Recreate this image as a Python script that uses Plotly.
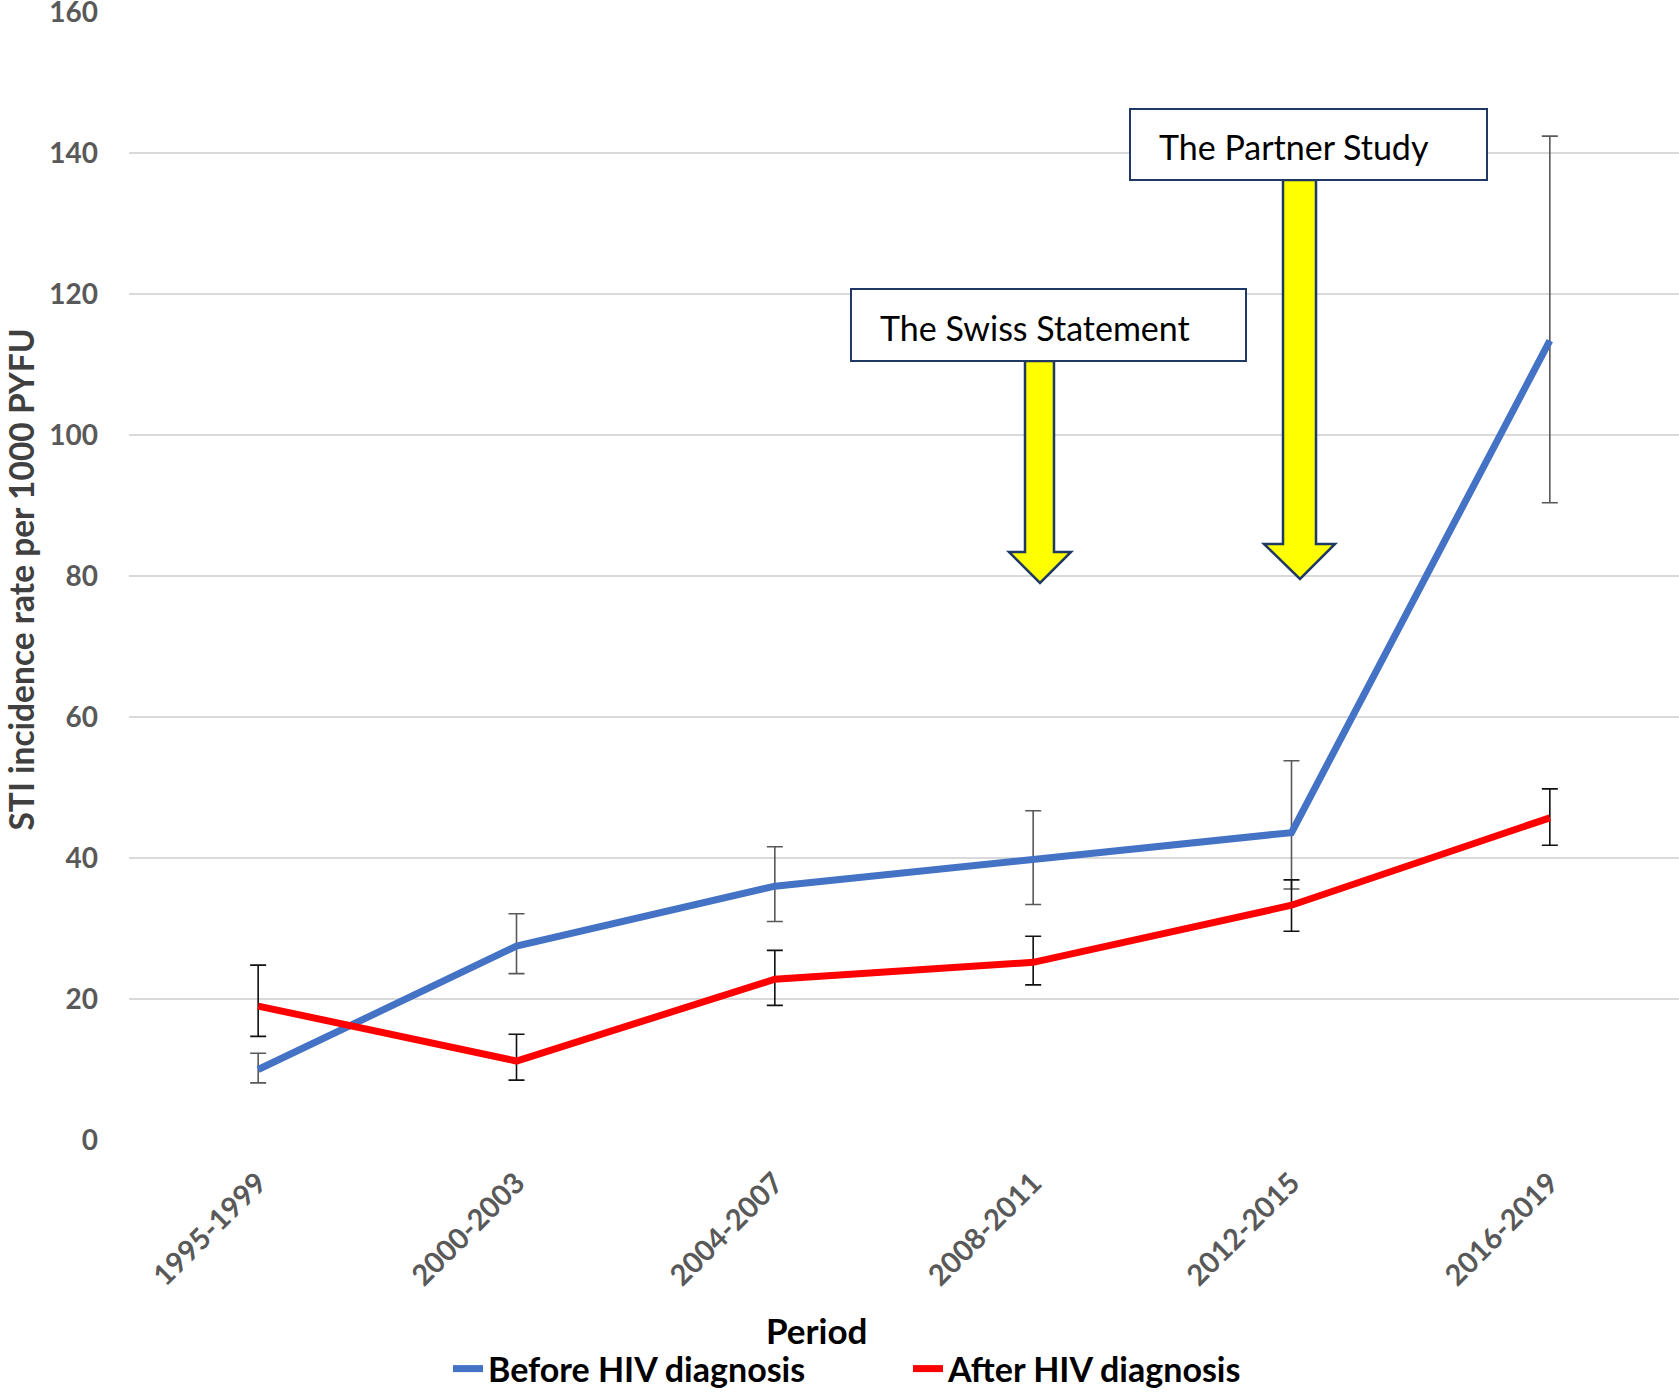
import plotly.graph_objects as go

periods = ["1995-1999", "2000-2003", "2004-2007", "2008-2011", "2012-2015", "2016-2019"]

before_rate = [10.0, 27.5, 36.0, 39.7, 43.6, 113.4]
before_upper = [12.3, 32.1, 41.6, 46.7, 53.8, 142.4]
before_lower = [8.1, 23.6, 31.0, 33.4, 35.6, 90.4]

after_rate = [19.0, 11.2, 22.8, 25.2, 33.3, 45.7]
after_upper = [24.8, 15.0, 26.9, 28.9, 36.9, 49.8]
after_lower = [14.7, 8.5, 19.1, 22.0, 29.6, 41.8]

y_ticks = [0, 20, 40, 60, 80, 100, 120, 140, 160]

W, H = 1679, 1394
ML, MR, MT, MB = 129, 0, 12, 254
PW = W - ML - MR
PH = H - MT - MB


def px(x):
    return (x - ML) / PW


def py(y):
    return (H - MB - y) / PH


fig = go.Figure()

fig.add_trace(go.Scatter(
    x=periods, y=before_rate, mode="lines", name="Before HIV diagnosis",
    line=dict(color="#4472C4", width=7),
    error_y=dict(type="data", symmetric=False,
                 array=[u - v for u, v in zip(before_upper, before_rate)],
                 arrayminus=[v - l for v, l in zip(before_rate, before_lower)],
                 color="#595959", thickness=1.6, width=8),
))
fig.add_trace(go.Scatter(
    x=periods, y=after_rate, mode="lines", name="After HIV diagnosis",
    line=dict(color="#FF0000", width=7),
    error_y=dict(type="data", symmetric=False,
                 array=[u - v for u, v in zip(after_upper, after_rate)],
                 arrayminus=[v - l for v, l in zip(after_rate, after_lower)],
                 color="#111111", thickness=1.6, width=8),
))

shapes = []
box_line = dict(color="#1F3864", width=2)
arrow_line = dict(color="#1F3864", width=2.5)


def rect(x0, y0, x1, y1):
    return dict(type="rect", xref="paper", yref="paper",
                x0=px(x0), x1=px(x1), y0=py(y1), y1=py(y0),
                line=box_line, fillcolor="white", layer="above")


def block_arrow(sx0, sx1, top, hx0, hx1, base, tipx, tipy):
    pts = [(sx0, top), (sx1, top), (sx1, base), (hx1, base), (tipx, tipy),
           (hx0, base), (sx0, base)]
    path = "M " + " L ".join(f"{px(a):.5f},{py(b):.5f}" for a, b in pts) + " Z"
    return dict(type="path", xref="paper", yref="paper", path=path,
                fillcolor="#FFFF00", line=arrow_line, layer="above")


shapes.append(block_arrow(1025, 1054, 361, 1009, 1071, 552, 1040, 583))
shapes.append(block_arrow(1283, 1316, 180, 1264, 1335, 544, 1300, 579))
shapes.append(rect(851, 289, 1246, 361))
shapes.append(rect(1130, 109, 1487, 180))

annotations = [
    dict(text="The Swiss Statement", xref="paper", yref="paper",
         x=px(878), y=py(327), xanchor="left", yanchor="middle", showarrow=False,
         font=dict(family="Lato", size=34, color="#000000")),
    dict(text="The Partner Study", xref="paper", yref="paper",
         x=px(1157), y=py(147), xanchor="left", yanchor="middle", showarrow=False,
         font=dict(family="Lato", size=34, color="#000000")),
    dict(text="Period", xref="paper", yref="paper",
         x=px(816), y=py(1330), xanchor="center", yanchor="middle", showarrow=False,
         font=dict(family="Lato", size=35, color="#000000", weight="bold")),
    dict(text="STI incidence rate per 1000 PYFU", xref="paper", yref="paper",
         x=px(20.5), y=py(580), xanchor="center", yanchor="middle", showarrow=False,
         textangle=-90, font=dict(family="Lato", size=33.5, color="#404040", weight="bold")),
]

fig.update_layout(
    width=W, height=H,
    margin=dict(l=ML, r=MR, t=MT, b=MB, pad=0, autoexpand=False),
    plot_bgcolor="white", paper_bgcolor="white",
    shapes=shapes, annotations=annotations,
    showlegend=True,
    legend=dict(orientation="h", x=px(448), y=py(1369), xanchor="left", yanchor="middle",
                font=dict(family="Lato", size=34, color="#000000", weight="bold"),
                entrywidth=415, bgcolor="rgba(0,0,0,0)"),
    font=dict(family="Lato"),
)

fig.update_xaxes(
    type="category", range=[-0.5, 5.5], tickangle=-45, showgrid=False, zeroline=False,
    showline=False, ticks="", ticklabelstandoff=19,
    tickfont=dict(family="Lato", size=29, color="#595959", weight="bold"),
)
fig.update_yaxes(
    range=[0, 160], tickvals=y_ticks, showgrid=True, gridcolor="#D9D9D9", gridwidth=2,
    zeroline=False, showline=False, ticks="", ticklabelstandoff=30,
    ticklabeloverflow="allow",
    tickfont=dict(family="Lato", size=28, color="#595959", weight="bold"),
)

fig.write_html("out.html")
